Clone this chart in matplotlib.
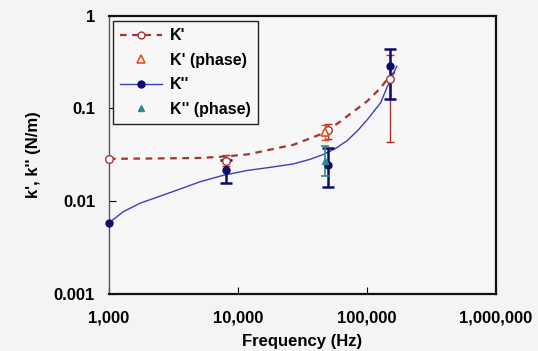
import matplotlib

matplotlib.use("Agg")
import matplotlib.pyplot as plt
from matplotlib.ticker import FixedLocator, FuncFormatter, NullLocator

plt.rcParams["font.family"] = ["Liberation Sans", "DejaVu Sans"]
plt.rcParams["font.weight"] = "bold"
plt.rcParams["axes.labelweight"] = "bold"

# measured K' (storage) points
k1_freq = [1000, 8000, 50000, 150000]
k1_val = [0.0286, 0.027, 0.058, 0.209]
# error bars for K'
k1e_freq = [8000, 50000, 150000]
k1e_val = [0.027, 0.058, 0.209]
k1e_lo = [0.024, 0.047, 0.043]
k1e_hi = [0.0316, 0.067, 0.38]

# measured K'' (loss) points
k2_freq = [1000, 8000, 50000, 150000]
k2_val = [0.00585, 0.0214, 0.0246, 0.284]
k2e_freq = [8000, 50000, 150000]
k2e_val = [0.0214, 0.0246, 0.284]
k2e_lo = [0.0157, 0.0143, 0.127]
k2e_hi = [0.028, 0.0374, 0.437]

# phase-derived points
k1p_freq = [47000]
k1p_val = [0.056]
k1p_lo = [0.0455]
k1p_hi = [0.066]

k2p_freq = [47000]
k2p_val = [0.0268]
k2p_lo = [0.0185]
k2p_hi = [0.0396]

# fitted curves
fit1_freq = [1000, 2000, 5000, 8000, 12000, 27000, 46000, 62000, 70000, 100000, 127000, 146000, 170000]
fit1_val = [0.0286, 0.0288, 0.0292, 0.0303, 0.032, 0.0406, 0.054, 0.072, 0.082, 0.119, 0.165, 0.213, 0.257]

fit2_freq = [1000, 1290, 1740, 3140, 5090, 7700, 11750, 18000, 26900, 36000, 46300, 58000, 70300, 85000, 100500, 127600, 144000, 170000]
fit2_val = [0.00585, 0.0077, 0.0095, 0.0127, 0.0162, 0.019, 0.0214, 0.0232, 0.0252, 0.0282, 0.032, 0.0375, 0.045, 0.058, 0.0755, 0.115, 0.173, 0.284]

DARKRED = "#a83232"
ORANGE = "#f04a20"
NAVY = "#0c0c6e"
BLUE = "#3d3dc0"
TEAL = "#2a8c8c"


def yerr(val, lo, hi):
    return [[v - l for v, l in zip(val, lo)], [h - v for v, h in zip(val, hi)]]


fig = plt.figure(figsize=(5.38, 3.51), dpi=100, facecolor="#f4f4f4")
ax = fig.add_axes([0.2026, 0.1624, 0.7194, 0.7934], facecolor="#f7f7f7")

ax.plot(fit1_freq, fit1_val, color=DARKRED, lw=1.6, ls=(0, (3, 2.5)), zorder=2)
ax.plot(fit2_freq, fit2_val, color=BLUE, lw=1.0, zorder=2)

ax.errorbar(k1e_freq, k1e_val, yerr=yerr(k1e_val, k1e_lo, k1e_hi), fmt="none",
            ecolor=DARKRED, elinewidth=1.0, capsize=3, capthick=1.0, zorder=3)
ax.errorbar(k2e_freq, k2e_val, yerr=yerr(k2e_val, k2e_lo, k2e_hi), fmt="none",
            ecolor=NAVY, elinewidth=1.8, capsize=4, capthick=1.8, zorder=3)
ax.errorbar(k1p_freq, k1p_val, yerr=yerr(k1p_val, k1p_lo, k1p_hi), fmt="none",
            ecolor=ORANGE, elinewidth=1.0, capsize=3, capthick=1.0, zorder=3)
ax.errorbar(k2p_freq, k2p_val, yerr=yerr(k2p_val, k2p_lo, k2p_hi), fmt="none",
            ecolor=TEAL, elinewidth=1.2, capsize=3, capthick=1.2, zorder=3)

ax.plot(k2_freq, k2_val, "o", color=NAVY, ms=5, zorder=4, clip_on=False)
ax.plot(k1_freq, k1_val, "o", mfc="white", mec=DARKRED, mew=1.0, ms=5.5, zorder=5, clip_on=False)
ax.plot(k1p_freq, k1p_val, "^", mfc="white", mec=ORANGE, mew=1.2, ms=6, zorder=5)
ax.plot(k2p_freq, k2p_val, "^", color=TEAL, ms=4, zorder=5)

ax.set_xscale("log")
ax.set_yscale("log")
ax.set_xlim(1000, 1000000)
ax.set_ylim(0.001, 1)

ax.xaxis.set_major_locator(FixedLocator([1e3, 1e4, 1e5, 1e6]))
ax.xaxis.set_minor_locator(NullLocator())
ax.xaxis.set_major_formatter(FuncFormatter(lambda v, p: f"{int(round(v)):,}"))
ax.yaxis.set_major_locator(FixedLocator([0.001, 0.01, 0.1, 1]))
ax.yaxis.set_minor_locator(NullLocator())
ax.yaxis.set_major_formatter(FuncFormatter(lambda v, p: f"{v:g}"))
ax.tick_params(direction="in", length=5, width=0.8, labelsize=12)
ax.tick_params(axis="x", pad=12)
ax.tick_params(axis="y", pad=10)

for side in ["top", "right", "bottom"]:
    ax.spines[side].set_linewidth(1.6)
    ax.spines[side].set_color("#111111")
ax.spines["left"].set_color("#555555")
ax.spines["left"].set_linewidth(1.0)

ax.set_xlabel("Frequency (Hz)", fontsize=12, labelpad=6)
ax.set_ylabel("k', k'' (N/m)", fontsize=12, labelpad=9)

h1 = ax.plot([], [], color=DARKRED, lw=1.6, ls=(0, (3, 2.5)), marker="o",
             mfc="white", mec=DARKRED, ms=5)[0]
h2 = ax.plot([], [], ls="none", marker="^", mfc="white", mec=ORANGE, mew=1.2, ms=6)[0]
h3 = ax.plot([], [], color=BLUE, lw=1.0, marker="o", mfc=NAVY, mec=NAVY, ms=5)[0]
h4 = ax.plot([], [], ls="none", marker="^", color=TEAL, ms=4)[0]
leg = ax.legend([h1, h2, h3, h4], ["K'", "K' (phase)", "K''", "K'' (phase)"],
                loc="upper left", bbox_to_anchor=(0.01, 0.98), borderaxespad=0,
                fontsize=11.5, handlelength=2.6, labelspacing=0.6, fancybox=False,
                framealpha=1, facecolor="#f7f7f7", edgecolor="#222222",
                borderpad=0.45, handletextpad=0.5)
leg.get_frame().set_linewidth(1.0)

fig.savefig("out.png", dpi=100, facecolor=fig.get_facecolor())
